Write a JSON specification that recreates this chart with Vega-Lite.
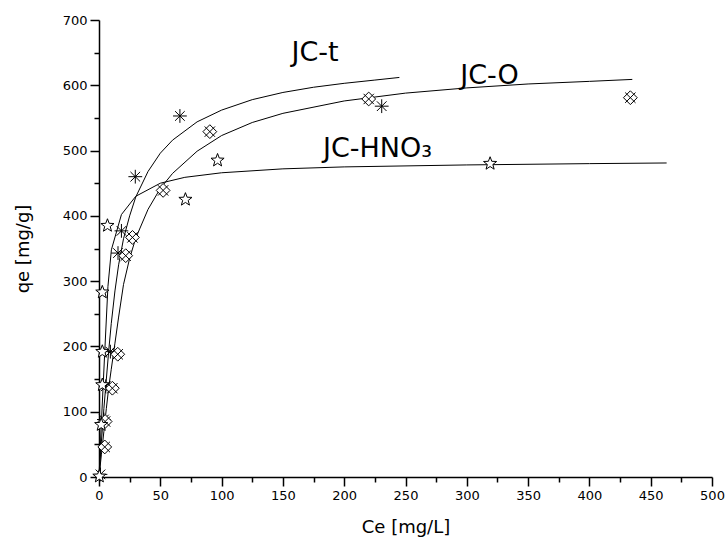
{
  "$schema": "https://vega.github.io/schema/vega-lite/v6.json",
  "width": 613,
  "height": 457,
  "autosize": {"type": "none"},
  "padding": {"left": 99, "top": 20, "right": 15, "bottom": 69},
  "background": "white",
  "config": {
    "view": {"stroke": null},
    "font": "DejaVu Sans",
    "axis": {
      "grid": false,
      "domainColor": "black",
      "domainWidth": 1.5,
      "tickColor": "black",
      "tickWidth": 1.5,
      "labelColor": "black",
      "titleColor": "black",
      "labelFont": "DejaVu Sans",
      "titleFont": "DejaVu Sans",
      "titleFontWeight": "normal",
      "labelFontSize": 13,
      "titleFontSize": 18,
      "labelOverlap": false,
      "labelFlush": false
    }
  },
  "datasets": {
    "curves": [
      {"series": "JC-t", "ce": 0, "qe": 0},
      {"series": "JC-t", "ce": 2, "qe": 55},
      {"series": "JC-t", "ce": 4, "qe": 105},
      {"series": "JC-t", "ce": 6, "qe": 150},
      {"series": "JC-t", "ce": 8, "qe": 195},
      {"series": "JC-t", "ce": 10, "qe": 235},
      {"series": "JC-t", "ce": 13, "qe": 285},
      {"series": "JC-t", "ce": 16, "qe": 325},
      {"series": "JC-t", "ce": 20, "qe": 365},
      {"series": "JC-t", "ce": 25, "qe": 400},
      {"series": "JC-t", "ce": 30, "qe": 429},
      {"series": "JC-t", "ce": 40, "qe": 468},
      {"series": "JC-t", "ce": 50, "qe": 496},
      {"series": "JC-t", "ce": 60, "qe": 516},
      {"series": "JC-t", "ce": 80, "qe": 544},
      {"series": "JC-t", "ce": 100, "qe": 562},
      {"series": "JC-t", "ce": 125, "qe": 578},
      {"series": "JC-t", "ce": 150, "qe": 589},
      {"series": "JC-t", "ce": 175, "qe": 597},
      {"series": "JC-t", "ce": 200, "qe": 603},
      {"series": "JC-t", "ce": 225, "qe": 608},
      {"series": "JC-t", "ce": 245, "qe": 612},
      {"series": "JC-O", "ce": 0, "qe": 0},
      {"series": "JC-O", "ce": 2, "qe": 35},
      {"series": "JC-O", "ce": 4, "qe": 70},
      {"series": "JC-O", "ce": 6, "qe": 105},
      {"series": "JC-O", "ce": 8, "qe": 138},
      {"series": "JC-O", "ce": 10, "qe": 165},
      {"series": "JC-O", "ce": 13, "qe": 205},
      {"series": "JC-O", "ce": 16, "qe": 245},
      {"series": "JC-O", "ce": 20, "qe": 295},
      {"series": "JC-O", "ce": 25, "qe": 335},
      {"series": "JC-O", "ce": 30, "qe": 366},
      {"series": "JC-O", "ce": 40, "qe": 410},
      {"series": "JC-O", "ce": 50, "qe": 442},
      {"series": "JC-O", "ce": 60, "qe": 465},
      {"series": "JC-O", "ce": 80, "qe": 499},
      {"series": "JC-O", "ce": 100, "qe": 523},
      {"series": "JC-O", "ce": 125, "qe": 543},
      {"series": "JC-O", "ce": 150, "qe": 557},
      {"series": "JC-O", "ce": 200, "qe": 576},
      {"series": "JC-O", "ce": 250, "qe": 588},
      {"series": "JC-O", "ce": 300, "qe": 596},
      {"series": "JC-O", "ce": 350, "qe": 602},
      {"series": "JC-O", "ce": 400, "qe": 606},
      {"series": "JC-O", "ce": 435, "qe": 609},
      {"series": "JC-HNO3", "ce": 0, "qe": 0},
      {"series": "JC-HNO3", "ce": 2, "qe": 85},
      {"series": "JC-HNO3", "ce": 4.7, "qe": 192},
      {"series": "JC-HNO3", "ce": 7.3, "qe": 292},
      {"series": "JC-HNO3", "ce": 10.1, "qe": 348},
      {"series": "JC-HNO3", "ce": 18.3, "qe": 402},
      {"series": "JC-HNO3", "ce": 30, "qe": 430},
      {"series": "JC-HNO3", "ce": 50, "qe": 450},
      {"series": "JC-HNO3", "ce": 70, "qe": 459},
      {"series": "JC-HNO3", "ce": 100, "qe": 466},
      {"series": "JC-HNO3", "ce": 150, "qe": 472},
      {"series": "JC-HNO3", "ce": 200, "qe": 475},
      {"series": "JC-HNO3", "ce": 300, "qe": 478},
      {"series": "JC-HNO3", "ce": 400, "qe": 480},
      {"series": "JC-HNO3", "ce": 463, "qe": 481}
    ],
    "points": [
      {"series": "JC-t", "ce": 1.2, "qe": 4},
      {"series": "JC-t", "ce": 4, "qe": 88},
      {"series": "JC-t", "ce": 5.5, "qe": 139},
      {"series": "JC-t", "ce": 9.3, "qe": 192},
      {"series": "JC-t", "ce": 15.5, "qe": 343},
      {"series": "JC-t", "ce": 18.3, "qe": 377},
      {"series": "JC-t", "ce": 29.6, "qe": 460},
      {"series": "JC-t", "ce": 66, "qe": 553},
      {"series": "JC-t", "ce": 230.6, "qe": 568},
      {"series": "JC-O", "ce": 4.7, "qe": 46},
      {"series": "JC-O", "ce": 5, "qe": 85},
      {"series": "JC-O", "ce": 10.9, "qe": 136},
      {"series": "JC-O", "ce": 15.3, "qe": 188},
      {"series": "JC-O", "ce": 21.8, "qe": 339},
      {"series": "JC-O", "ce": 27.3, "qe": 367},
      {"series": "JC-O", "ce": 52.3, "qe": 439},
      {"series": "JC-O", "ce": 90.4, "qe": 529},
      {"series": "JC-O", "ce": 220, "qe": 579},
      {"series": "JC-O", "ce": 433.4, "qe": 581},
      {"series": "JC-HNO3", "ce": 0.3, "qe": 1},
      {"series": "JC-HNO3", "ce": 1.8, "qe": 80},
      {"series": "JC-HNO3", "ce": 2.7, "qe": 141},
      {"series": "JC-HNO3", "ce": 2.7, "qe": 192},
      {"series": "JC-HNO3", "ce": 2.7, "qe": 283},
      {"series": "JC-HNO3", "ce": 6.9, "qe": 385},
      {"series": "JC-HNO3", "ce": 70.5, "qe": 425},
      {"series": "JC-HNO3", "ce": 96.7, "qe": 485},
      {"series": "JC-HNO3", "ce": 319, "qe": 480}
    ],
    "labels": [
      {"label": "JC-t", "ce": 157, "qe": 637},
      {"label": "JC-O", "ce": 294.6, "qe": 602},
      {"label": "JC-HNO₃", "ce": 182.7, "qe": 490}
    ]
  },
  "encoding": {
    "x": {
      "field": "ce",
      "type": "quantitative",
      "scale": {"domain": [0, 500], "nice": false, "zero": false},
      "axis": {
        "title": "Ce [mg/L]",
        "values": [0, 25, 50, 75, 100, 125, 150, 175, 200, 225, 250, 275, 300, 325, 350, 375, 400, 425, 450, 475, 500],
        "labelExpr": "datum.value % 50 === 0 ? datum.label : ''",
        "tickSize": {"condition": {"test": "datum.value % 50 === 0", "value": 9}, "value": 5},
        "labelPadding": 3,
        "titlePadding": 16
      }
    },
    "y": {
      "field": "qe",
      "type": "quantitative",
      "scale": {"domain": [0, 700], "nice": false, "zero": false},
      "axis": {
        "title": "qe [mg/g]",
        "values": [0, 50, 100, 150, 200, 250, 300, 350, 400, 450, 500, 550, 600, 650, 700],
        "labelExpr": "datum.value % 100 === 0 ? datum.label : ''",
        "tickSize": {"condition": {"test": "datum.value % 100 === 0", "value": 9}, "value": 5},
        "labelPadding": 3,
        "titlePadding": 30
      }
    }
  },
  "layer": [
    {
      "data": {"name": "curves"},
      "mark": {"type": "line", "color": "black", "strokeWidth": 1},
      "encoding": {"detail": {"field": "series", "type": "nominal"}}
    },
    {
      "data": {"name": "points"},
      "mark": {"type": "point", "filled": true, "fill": "white", "stroke": "black", "strokeWidth": 1, "opacity": 1, "size": 190},
      "encoding": {
        "shape": {
          "field": "series",
          "type": "nominal",
          "scale": {
            "domain": ["JC-t", "JC-O", "JC-HNO3"],
            "range": [
              "M0,-1L0,1M-1,0L1,0M-0.7,-0.7L0.7,0.7M-0.7,0.7L0.7,-0.7",
              "M0,-1L1,0L0,1L-1,0ZM-0.75,-0.75L0.75,0.75M0.75,-0.75L-0.75,0.75",
              "M0,-1L0.247,-0.34L0.951,-0.309L0.399,0.13L0.588,0.809L0,0.42L-0.588,0.809L-0.399,0.13L-0.951,-0.309L-0.247,-0.34Z"
            ]
          },
          "legend": null
        }
      }
    },
    {
      "data": {"name": "labels"},
      "mark": {"type": "text", "align": "left", "baseline": "alphabetic", "font": "DejaVu Sans", "fontSize": 27, "color": "black"},
      "encoding": {"text": {"field": "label", "type": "nominal"}}
    }
  ]
}
